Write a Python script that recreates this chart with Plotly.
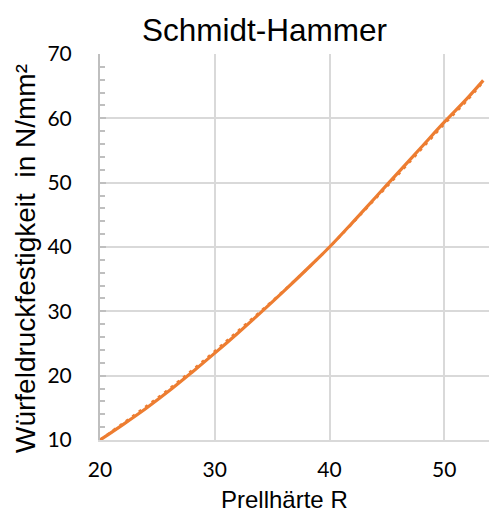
import plotly.graph_objects as go

# Rebound hardness R vs. cube compressive strength (N/mm²)
rebound_r = [20, 22, 24, 26, 28, 30, 32, 34, 36, 38, 40, 42, 44, 46, 48, 50, 52, 53.4]
strength_trend = [10.0, 12.4, 14.9, 17.6, 20.5, 23.5, 26.6, 29.8, 33.1, 36.5, 40.0,
                  43.8, 47.7, 51.6, 55.5, 59.4, 63.1, 65.9]
strength_measured = [10.0, 12.6, 15.2, 17.9, 20.8, 23.8, 26.9, 30.0, 33.2, 36.5, 40.0,
                     43.7, 47.5, 51.3, 55.2, 59.1, 62.8, 65.7]

x_ticks = [20, 30, 40, 50]
y_ticks = [10, 20, 30, 40, 50, 60, 70]

ORANGE = "#ED7D31"
GRID = "#d9d9d9"

fig = go.Figure()
fig.add_trace(go.Scatter(
    x=rebound_r, y=strength_measured, mode="lines",
    line=dict(color=ORANGE, width=2.5, dash="3px,5px", shape="spline"),
    hoverinfo="skip", showlegend=False,
))
fig.add_trace(go.Scatter(
    x=rebound_r, y=strength_trend, mode="lines",
    line=dict(color=ORANGE, width=3.2, shape="spline"),
    showlegend=False,
))

tick_font = dict(family="Lato, sans-serif", size=21, color="#000000")

fig.update_layout(
    width=489, height=512,
    margin=dict(l=100, r=0, t=54, b=72),
    paper_bgcolor="white", plot_bgcolor="white",
    title=dict(
        text="Schmidt-Hammer",
        font=dict(family="Liberation Sans, Arial, sans-serif", size=31.5, color="#000000"),
        x=264.5 / 489, xref="container", xanchor="center",
        y=1 - 30 / 512, yref="container", yanchor="middle",
    ),
    xaxis=dict(
        range=[20, 53.9], tickmode="array", tickvals=x_ticks,
        showgrid=True, gridcolor=GRID, gridwidth=2,
        showline=True, linecolor=GRID, linewidth=2,
        ticks="", tickfont=tick_font, ticklabelstandoff=10,
        zeroline=False,
    ),
    yaxis=dict(
        range=[10, 70], tickmode="array", tickvals=y_ticks,
        showgrid=True, gridcolor=GRID, gridwidth=2,
        showline=True, linecolor="#bfbfbf", linewidth=2,
        ticks="inside", ticklen=6, tickcolor="#bfbfbf", tickwidth=2,
        minor=dict(dtick=2, ticks="inside", ticklen=5, tickcolor="#bfbfbf",
                   tickwidth=1.5, showgrid=False),
        tickfont=tick_font, ticklabelstandoff=22,
        zeroline=False,
    ),
    annotations=[
        dict(text="Prellhärte R", xref="paper", yref="paper",
             x=(284 - 100) / 389, y=-(499 - 440) / 386, xanchor="center", yanchor="middle",
             showarrow=False,
             font=dict(family="Liberation Sans, Arial, sans-serif", size=24, color="#000000")),
        dict(text="Würfeldruckfestigkeit  in N/mm²", xref="paper", yref="paper",
             x=-(100 - 25) / 389, y=(440 - 259) / 386, xanchor="center", yanchor="middle",
             textangle=-90, showarrow=False,
             font=dict(family="Liberation Sans, Arial, sans-serif", size=28, color="#000000")),
    ],
)

fig.write_html("out.html")
